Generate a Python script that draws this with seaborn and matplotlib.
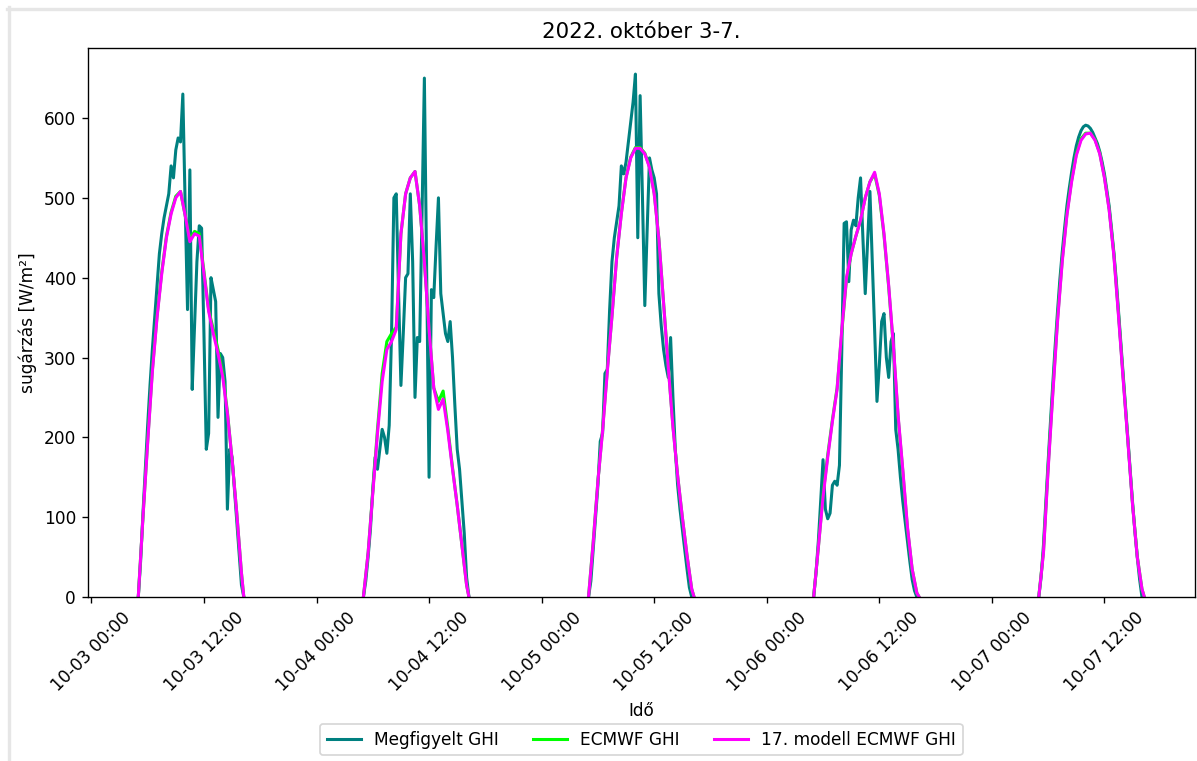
import numpy as np
import pandas as pd
import matplotlib.pyplot as plt
import matplotlib.dates as mdates
import seaborn as sns

# napok es idopontok (UTC)
days = pd.date_range('2022-10-03', periods=5, freq='D')
obs_hours = np.arange(5.0, 16.26, 0.25)              # 15 perces meresek
model_hours = list(np.arange(5.0, 16.01, 0.5)) + [16.25]  # modell idopontok

nan = np.nan

# Megfigyelt GHI (05:00 - 16:15, 15 perc)
obs_day1 = [0, 45, 105, 160, 215, 265, 310, 350, 390, 430, 455, 475, 490, 505, 540, 525,
            560, 575, 570, 630, 490, 360, 535, 260, 340, 420, 465, 462, 330, 185, 205, 400,
            385, 370, 225, 305, 300, 270, 110, 185, 175, 135, 95, 55, 15, 0]
obs_day2 = [0, 20, 50, 85, 135, 175, 160, 185, 210, 200, 180, 215, 330, 500, 505, 380,
            265, 330, 400, 405, 505, 420, 250, 325, 320, 480, 650, 400, 150, 385, 375, 440,
            500, 380, 355, 330, 320, 345, 300, 240, 185, 160, 120, 80, 25, 0]
obs_day3 = [0, 20, 60, 100, 140, 195, 205, 280, 285, 360, 420, 450, 470, 490, 540, 530,
            545, 570, 595, 620, 655, 450, 628, 500, 365, 460, 550, 535, 525, 505, 380, 340,
            310, 290, 275, 325, 250, 185, 140, 110, 85, 60, 35, 12, 0, nan]
obs_day4 = [0, 30, 70, 120, 172, 110, 98, 105, 140, 145, 140, 165, 310, 468, 470, 395,
            460, 472, 465, 500, 525, 450, 380, 445, 508, 420, 335, 245, 290, 345, 355, 300,
            275, 320, 330, 210, 185, 150, 120, 95, 70, 45, 22, 8, 0, nan]
obs_day5 = [0, 25, 65, 118, 170, 220, 268, 315, 358, 398, 432, 462, 490, 512, 532, 550,
            565, 576, 584, 589, 591, 590, 587, 582, 575, 568, 558, 545, 530, 510, 490, 462,
            432, 398, 358, 318, 278, 238, 198, 158, 118, 82, 50, 22, 0, nan]

# ECMWF GHI (05:00 - 16:00 felorankent + 16:15)
ecmwf_day1 = [0, 100, 195, 284, 352, 407, 452, 482, 502, 508, 478, 448, 458, 455, 408, 360,
              335, 310, 280, 232, 172, 105, 30, 0]
ecmwf_day2 = [0, 55, 132, 210, 280, 320, 330, 338, 455, 505, 525, 533, 490, 420, 335, 262,
              245, 258, 212, 162, 115, 65, 15, 0]
ecmwf_day3 = [0, 70, 145, 210, 284, 352, 426, 481, 526, 551, 563, 563, 556, 539, 506, 449,
              369, 289, 214, 152, 100, 52, 10, 0]
ecmwf_day4 = [0, 62, 128, 178, 222, 262, 332, 398, 430, 452, 472, 500, 520, 530, 503, 453,
              388, 313, 226, 158, 86, 35, 5, 0]
ecmwf_day5 = [0, 57, 163, 258, 348, 422, 480, 522, 555, 574, 581, 581, 573, 556, 526, 486,
              430, 354, 274, 196, 116, 51, 10, 0]

# 17. modell ECMWF GHI
model_day1 = [0, 100, 193, 282, 350, 405, 450, 480, 500, 508, 478, 445, 455, 452, 405, 358,
              330, 305, 276, 230, 172, 105, 30, 0]
model_day2 = [0, 55, 130, 205, 270, 310, 320, 335, 455, 505, 525, 533, 490, 420, 335, 262,
              235, 248, 208, 160, 115, 65, 15, 0]
model_day3 = [0, 68, 145, 208, 282, 352, 425, 480, 525, 550, 562, 562, 555, 538, 505, 448,
              368, 288, 213, 152, 100, 52, 10, 0]
model_day4 = [0, 62, 125, 175, 220, 260, 335, 400, 430, 452, 472, 500, 520, 532, 505, 455,
              390, 315, 228, 160, 88, 35, 5, 0]
model_day5 = [0, 55, 160, 255, 345, 420, 478, 520, 553, 572, 580, 581, 572, 555, 525, 485,
              428, 352, 272, 195, 115, 50, 10, 0]

labels = ['Megfigyelt GHI', 'ECMWF GHI', '17. modell ECMWF GHI']
colors = ['#008080', '#00ff00', '#ff00ff']


def build(name, hours, day_values):
    rows = []
    for d, vals in zip(days, day_values):
        for h, v in zip(hours, vals):
            rows.append({'Idő': d + pd.Timedelta(hours=float(h)), 'GHI': v,
                         'sor': name, 'nap': d.day})
    return pd.DataFrame(rows)


df = pd.concat([
    build(labels[0], obs_hours, [obs_day1, obs_day2, obs_day3, obs_day4, obs_day5]),
    build(labels[1], model_hours, [ecmwf_day1, ecmwf_day2, ecmwf_day3, ecmwf_day4, ecmwf_day5]),
    build(labels[2], model_hours, [model_day1, model_day2, model_day3, model_day4, model_day5]),
]).dropna(subset=['GHI'])

DPI = 122
fig, ax = plt.subplots(figsize=(1197 / DPI, 761 / DPI), dpi=DPI)
fig.subplots_adjust(left=0.0735, right=0.998, top=0.937, bottom=0.2155)

sns.lineplot(data=df, x='Idő', y='GHI', hue='sor', units='nap', estimator=None,
             hue_order=labels, palette=colors, linewidth=1.8, ax=ax)

ax.set_ylim(bottom=0)
ax.xaxis.set_major_locator(mdates.HourLocator(byhour=[0, 12]))
ax.xaxis.set_major_formatter(mdates.DateFormatter('%m-%d %H:%M'))
plt.setp(ax.get_xticklabels(), rotation=45)

ax.set_title('2022. október 3-7.', fontsize=12.6)
ax.set_xlabel('Idő')
ax.set_ylabel('sugárzás [W/m²]')

sns.move_legend(ax, 'upper center', bbox_to_anchor=(0.5, -0.231), ncol=3,
                title=None, frameon=True, borderaxespad=0)

# szurke keret a kep szelen
fig.add_artist(plt.Line2D([7 / 1197, 1], [1 - 8.5 / 761] * 2, transform=fig.transFigure,
                          color='#e6e6e6', lw=2.0))
fig.add_artist(plt.Line2D([8.5 / 1197] * 2, [0, 1 - 7 / 761], transform=fig.transFigure,
                          color='#e6e6e6', lw=2.0))

fig.savefig('out.png', dpi=DPI)
